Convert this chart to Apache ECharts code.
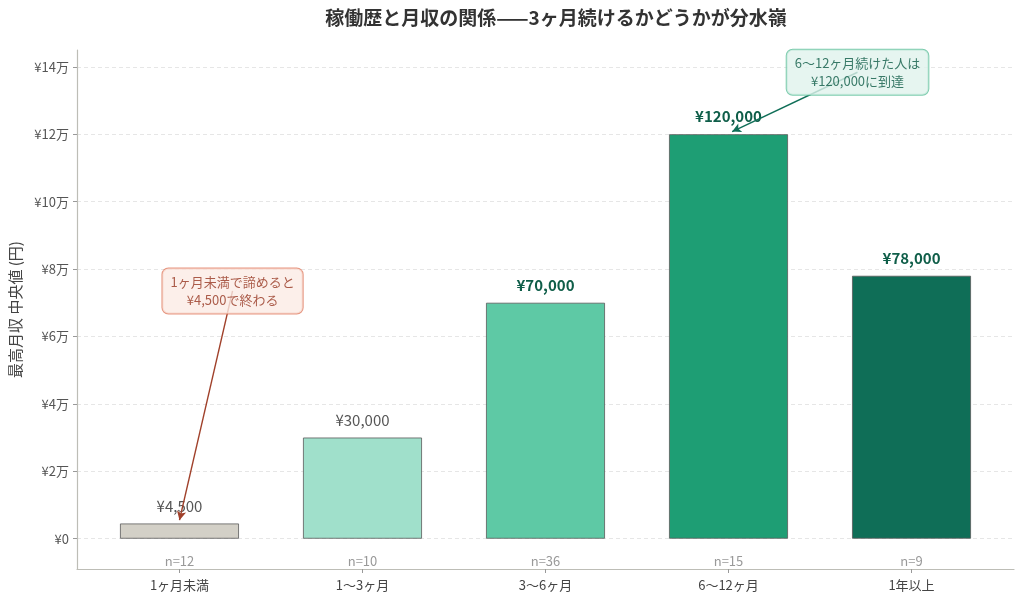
<!DOCTYPE html>
<html>
<head>
<meta charset="utf-8">
<script src="https://cdn.jsdelivr.net/npm/echarts@6/dist/echarts.min.js"></script>
<style>
html,body{margin:0;padding:0;background:#fff;}
#chart{width:1024px;height:602px;}
</style>
</head>
<body>
<div id="chart"></div>
<script>
const categories = ['1ヶ月未満', '1〜3ヶ月', '3〜6ヶ月', '6〜12ヶ月', '1年以上'];
const medianIncome = [4500, 30000, 70000, 120000, 78000];
const sampleSizes = [12, 10, 36, 15, 9];
const barColors = ['#d3d0c7', '#a0e0cb', '#5ec9a5', '#1e9e74', '#0f6e57'];
const highlighted = [false, false, true, true, true];
const yTicks = [0, 20000, 40000, 60000, 80000, 100000, 120000, 140000];
const catIdx = [0, 1, 2, 3, 4];

const annotationTexts = ['1ヶ月未満で諦めると\n¥4,500で終わる', '6〜12ヶ月続けた人は\n¥120,000に到達'];
const annotationBoxAt = [[0.29, 73500], [3.705, 138400]];
const annotationArrowTo = [[0, 5500], [3.02, 120800]];
const annotationText = ['#963620', '#0d5a45'];
const annotationFill = ['#fbebe5', '#e0f3ec'];
const annotationBorder = ['#e07a5f', '#5cbf9a'];
const annotationArrow = ['#a0402a', '#0f6e57'];

const FONT = '"Noto Sans CJK JP", "Noto Sans", sans-serif';
const chart = echarts.init(document.getElementById('chart'));

const barData = medianIncome.map((v, i) => ({
  value: [i, v],
  itemStyle: { color: barColors[i], borderColor: '#5a5a5a', borderWidth: 0.8 },
  label: highlighted[i]
    ? { color: '#0f5e49', fontWeight: 'bold', fontSize: 15 }
    : { color: '#555', fontWeight: 'normal', fontSize: 15 }
}));

const arrowLines = annotationBoxAt.map((b, i) => [
  { coord: b, lineStyle: { color: annotationArrow[i], width: 1.4, type: 'solid' } },
  { coord: annotationArrowTo[i] }
]);

const boxData = annotationBoxAt.map((b, i) => ({
  value: b,
  label: {
    color: annotationText[i],
    backgroundColor: annotationFill[i],
    borderColor: annotationBorder[i],
    borderWidth: 1,
    borderRadius: 6,
    padding: [5, 8, 4, 8]
  }
}));

chart.setOption({
  backgroundColor: '#ffffff',
  textStyle: { fontFamily: FONT },
  animation: false,
  title: {
    text: '稼働歴と月収の関係——3ヶ月続けるかどうかが分水嶺',
    left: 551,
    top: 3,
    textAlign: 'center',
    textStyle: { fontSize: 19, fontWeight: 'bold', color: '#333', fontFamily: FONT }
  },
  grid: { left: 75, right: 10, top: 50, bottom: 33, containLabel: false },
  xAxis: [
    {
      type: 'value',
      min: -0.56,
      max: 4.56,
      axisLine: { show: true, onZero: false, lineStyle: { color: '#bdbdb6', width: 1.2 } },
      axisTick: { show: true, customValues: catIdx, length: 4, lineStyle: { color: '#999' } },
      axisLabel: {
        customValues: catIdx,
        formatter: v => categories[Math.round(v)],
        color: '#444', fontSize: 13, margin: 10, fontFamily: FONT
      },
      splitLine: { show: false }
    },
    {
      type: 'value',
      position: 'bottom',
      min: -0.56,
      max: 4.56,
      axisLine: { show: false, onZero: false },
      axisTick: { show: false },
      axisLabel: {
        inside: true,
        customValues: catIdx,
        formatter: v => 'n=' + sampleSizes[Math.round(v)],
        color: '#999', fontSize: 13, margin: 1, fontFamily: FONT
      },
      splitLine: { show: false }
    }
  ],
  yAxis: {
    type: 'value',
    min: -9000,
    max: 145000,
    name: '最高月収 中央値 (円)',
    nameLocation: 'middle',
    nameGap: 54,
    nameTextStyle: { fontSize: 15, color: '#444', fontFamily: FONT },
    axisLine: { show: true, onZero: false, lineStyle: { color: '#bdbdb6', width: 1.2 } },
    axisTick: { show: true, customValues: yTicks, length: 4, lineStyle: { color: '#999' } },
    axisLabel: {
      customValues: yTicks,
      formatter: v => v === 0 ? '¥0' : '¥' + (v / 10000) + '万',
      color: '#555', fontSize: 13, margin: 8, fontFamily: FONT
    },
    splitLine: { show: true, lineStyle: { color: '#e6e6e6', type: [4, 3], width: 1 } }
  },
  series: [
    {
      type: 'bar',
      xAxisIndex: 0,
      barWidth: '65%',
      data: barData,
      z: 2,
      label: {
        show: true,
        position: 'top',
        distance: 10,
        formatter: p => '¥' + p.value[1].toLocaleString('en-US'),
        fontFamily: FONT
      },
      markLine: {
        silent: true,
        symbol: ['none', 'arrow'],
        symbolSize: [7, 9],
        label: { show: false },
        data: arrowLines
      }
    },
    {
      type: 'scatter',
      xAxisIndex: 0,
      symbolSize: 0,
      z: 10,
      silent: true,
      data: boxData,
      label: {
        show: true,
        position: 'inside',
        formatter: p => annotationTexts[p.dataIndex],
        fontSize: 13,
        lineHeight: 18,
        align: 'center',
        fontFamily: FONT
      }
    }
  ]
});
</script>
</body>
</html>
